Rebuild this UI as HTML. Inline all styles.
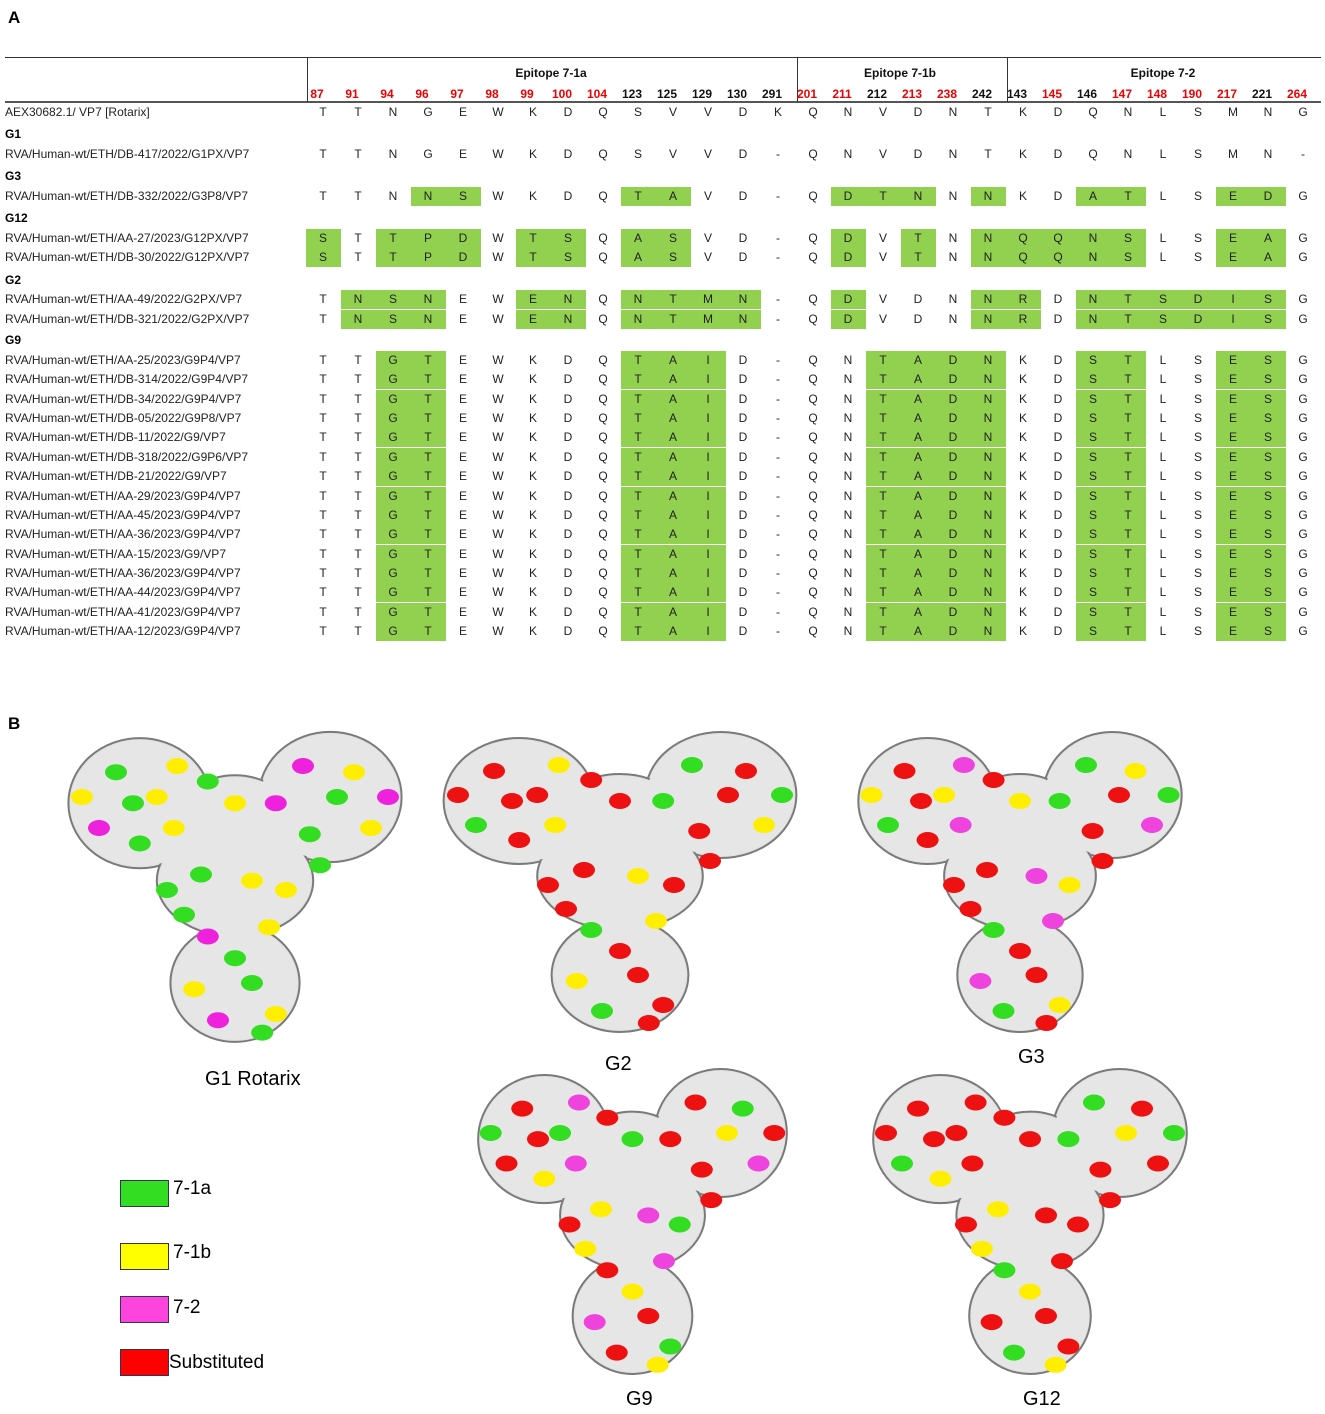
<!DOCTYPE html>
<html><head><meta charset="utf-8">
<style>
body{margin:0;background:#fff;font-family:"Liberation Sans",sans-serif;}
#root{position:relative;width:1325px;height:1414px;overflow:hidden;}
.t{position:absolute;white-space:nowrap;}
.c{position:absolute;font-size:12px;transform:translateX(-50%);color:#222;}
.lbl{position:absolute;font-size:12px;color:#222;left:5px;}
.grp{position:absolute;font-size:12px;font-weight:bold;left:5px;}
.box{position:absolute;background:#92d050;height:19px;}
.num{position:absolute;font-size:12px;font-weight:bold;transform:translateX(-50%);}
</style></head><body>
<div id="root">
<div class="t" style="left:8px;top:8px;font-weight:bold;font-size:17px">A</div>
<div class="t" style="left:8px;top:714px;font-weight:bold;font-size:17px">B</div>
<div id="tbl"></div>
<svg id="mol" width="1325" height="1414" style="position:absolute;left:0;top:0"></svg>
<div class="t" style="left:205px;top:1068px;font-size:20px">G1 Rotarix</div>
<div class="t" style="left:605px;top:1053px;font-size:20px">G2</div>
<div class="t" style="left:1018px;top:1046px;font-size:20px">G3</div>
<div class="t" style="left:626px;top:1388px;font-size:20px">G9</div>
<div class="t" style="left:1023px;top:1388px;font-size:20px">G12</div>
<div>
<div style="position:absolute;left:120px;top:1180px;width:47px;height:25px;background:#33dd22;border:1px solid #335"></div>
<div class="t" style="left:173px;top:1178px;font-size:19px">7-1a</div>
<div style="position:absolute;left:120px;top:1243px;width:47px;height:25px;background:#ffff00;border:1px solid #335"></div>
<div class="t" style="left:173px;top:1242px;font-size:19px">7-1b</div>
<div style="position:absolute;left:120px;top:1296px;width:47px;height:25px;background:#ff44dd;border:1px solid #335"></div>
<div class="t" style="left:173px;top:1297px;font-size:19px">7-2</div>
<div style="position:absolute;left:120px;top:1349px;width:47px;height:25px;background:#ff0000;border:1px solid #335"></div>
<div class="t" style="left:169px;top:1352px;font-size:19px">Substituted</div>
</div>
</div>
<script>
const positions=['87','91','94','96','97','98','99','100','104','123','125','129','130','291','201','211','212','213','238','242','143','145','146','147','148','190','217','221','264'];
const redPos=['87','91','94','96','97','98','99','100','104','201','211','213','238','145','147','148','190','217','264'];
const rows=[
['AEX30682.1/ VP7 [Rotarix]','TTNGEWKDQSVVDKQNVDNTKDQNLSMNG','',112],
['G1','','',134],
['RVA/Human-wt/ETH/DB-417/2022/G1PX/VP7','TTNGEWKDQSVVD-QNVDNTKDQNLSMN-','',154],
['G3','','',176],
['RVA/Human-wt/ETH/DB-332/2022/G3P8/VP7','TTNNSWKDQTAVD-QDTNNNKDATLSEDG','3,4,9,10,15,16,17,19,22,23,26,27',196],
['G12','','',218],
['RVA/Human-wt/ETH/AA-27/2023/G12PX/VP7','STTPDWTSQASVD-QDVTNNQQNSLSEAG','0,2,3,4,6,7,9,10,15,17,19,20,21,22,23,26,27',238],
['RVA/Human-wt/ETH/DB-30/2022/G12PX/VP7','STTPDWTSQASVD-QDVTNNQQNSLSEAG','0,2,3,4,6,7,9,10,15,17,19,20,21,22,23,26,27',257],
['G2','','',280],
['RVA/Human-wt/ETH/AA-49/2022/G2PX/VP7','TNSNEWENQNTMN-QDVDNNRDNTSDISG','1,2,3,6,7,9,10,11,12,15,19,20,22,23,24,25,26,27',299],
['RVA/Human-wt/ETH/DB-321/2022/G2PX/VP7','TNSNEWENQNTMN-QDVDNNRDNTSDISG','1,2,3,6,7,9,10,11,12,15,19,20,22,23,24,25,26,27',319],
['G9','','',340]];
const g9names=['AA-25/2023/G9P4','DB-314/2022/G9P4','DB-34/2022/G9P4','DB-05/2022/G9P8','DB-11/2022/G9','DB-318/2022/G9P6','DB-21/2022/G9','AA-29/2023/G9P4','AA-45/2023/G9P4','AA-36/2023/G9P4','AA-15/2023/G9','AA-36/2023/G9P4','AA-44/2023/G9P4','AA-41/2023/G9P4','AA-12/2023/G9P4'];
g9names.forEach((n,i)=>rows.push(['RVA/Human-wt/ETH/'+n+'/VP7','TTGTEWKDQTAID-QNTADNKDSTLSESG','2,3,9,10,11,16,17,18,19,22,23,26,27',360+i*19.36]));
const X=i=>323+35*i;
const tbl=document.getElementById('tbl');
let h='';
h+='<div style="position:absolute;left:5px;top:57px;width:1316px;height:1px;background:#333"></div>';
h+='<div style="position:absolute;left:5px;top:101px;width:1316px;height:2px;background:#555"></div>';
[307,797,1007].forEach((x,i)=>h+='<div style="position:absolute;left:'+x+'px;top:57px;width:1px;height:45px;background:#333"></div>');
h+='<div class="num" style="left:551px;top:66px;color:#111">Epitope 7-1a</div>';
h+='<div class="num" style="left:900px;top:66px;color:#111">Epitope 7-1b</div>';
h+='<div class="num" style="left:1163px;top:66px;color:#111">Epitope 7-2</div>';
positions.forEach((p,i)=>{h+='<div class="num" style="left:'+(X(i)-6)+'px;top:87px;color:'+(redPos.includes(p)?'#e00':'#111')+'">'+p+'</div>';});
rows.forEach((r,ri)=>{
 const y=r[3];
 if(!r[1]){h+='<div class="grp" style="top:'+(y-7)+'px">'+r[0]+'</div>';return;}
 const g=r[2]?r[2].split(',').map(Number):[];
 g.forEach(i=>{h+='<div class="box" style="left:'+(X(i)-17.5)+'px;width:35px;top:'+(y-9)+'px"></div>';});
 h+='<div class="lbl" style="top:'+(y-7)+'px">'+r[0]+'</div>';
 r[1].split('').forEach((ch,i)=>{h+='<div class="c" style="left:'+X(i)+'px;top:'+(y-7)+'px">'+ch+'</div>';});
});
tbl.innerHTML=h;

const svg=document.getElementById('mol');
const NS='http://www.w3.org/2000/svg';
const structs=[[65,735,340,310,'g1'],[440,735,360,300,'g2'],[855,735,330,300,'g3'],[475,1072,315,305,'g9'],[870,1072,320,305,'g12']];
const palettes={g1:['#33dd22','#ffee00','#ee22dd','#33dd22','#ffee00'],g2:['#ee1111','#ee1111','#33dd22','#ee1111','#ffee00'],g3:['#ee1111','#ffee00','#33dd22','#ee1111','#ee44dd'],g9:['#ee1111','#33dd22','#ee1111','#ffee00','#ee44dd'],g12:['#ee1111','#ee1111','#33dd22','#ffee00','#ee1111']};
const spots=[[.15,.12],[.27,.2],[.1,.3],[.22,.35],[.33,.1],[.42,.15],[.5,.22],[.7,.1],[.8,.2],[.9,.3],[.72,.32],[.85,.12],[.62,.22],[.4,.45],[.55,.47],[.3,.5],[.65,.5],[.42,.65],[.5,.72],[.38,.82],[.55,.8],[.62,.9],[.45,.92],[.35,.58],[.6,.62],[.2,.22],[.05,.2],[.95,.2],[.58,.96],[.32,.3],[.75,.42]];
structs.forEach(([x,y,w,hh,n])=>{
 const g=document.createElementNS(NS,'g');
 
 
 const parts=[[.22,.22,.21,.21],[.78,.2,.21,.21],[.5,.47,.23,.18],[.5,.8,.19,.19],[.5,.25,.16,.12]];
 parts.forEach(p=>{const e=document.createElementNS(NS,'ellipse');e.setAttribute('cx',x+p[0]*w);e.setAttribute('cy',y+p[1]*hh);e.setAttribute('rx',p[2]*w);e.setAttribute('ry',p[3]*hh);e.setAttribute('fill','#e0e0e0');e.setAttribute('stroke','#7a7a7a');e.setAttribute('stroke-width','2');g.appendChild(e);});
 parts.forEach(p=>{const e=document.createElementNS(NS,'ellipse');e.setAttribute('cx',x+p[0]*w);e.setAttribute('cy',y+p[1]*hh);e.setAttribute('rx',p[2]*w-2);e.setAttribute('ry',p[3]*hh-2);e.setAttribute('fill','#e6e6e6');g.appendChild(e);});
 const pal=palettes[n];
 spots.forEach((s,i)=>{const c=document.createElementNS(NS,'ellipse');c.setAttribute('cx',x+s[0]*w);c.setAttribute('cy',y+s[1]*hh);c.setAttribute('rx',11);c.setAttribute('ry',8);c.setAttribute('fill',pal[i%pal.length]);g.appendChild(c);});
 svg.appendChild(g);
});
</script>
</body></html>
